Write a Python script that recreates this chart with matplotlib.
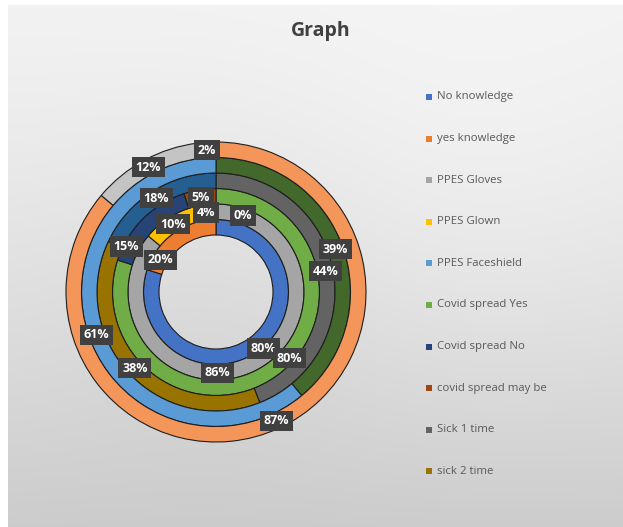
import matplotlib.pyplot as plt
import numpy as np
from matplotlib.patches import Rectangle

# ring data, inner ring first (percent shares)
knowledge_vals = [80, 20]
ppe_vals = [0, 86, 10, 4]
spread_vals = [80, 15, 5]
sick_vals = [44, 38, 18]
ring5_vals = [39, 61]
outer_vals = [87, 12, 2]

knowledge_colors = ['#4472C4', '#ED7D31']
ppe_colors = ['#A5A5A5', '#A5A5A5', '#FFC000', '#5B9BD5']
spread_colors = ['#70AD47', '#264478', '#9E480E']
sick_colors = ['#636363', '#997300', '#255E91']
ring5_colors = ['#43682B', '#5B9BD5']
outer_colors = ['#F4965A', '#C4C4C4', '#D4D4D4']

legend_labels = ['No knowledge', 'yes knowledge', 'PPES Gloves', 'PPES Glown',
                 'PPES Faceshield', 'Covid spread Yes', 'Covid spread No',
                 'covid spread may be', 'Sick 1 time', 'sick 2 time']
legend_colors = ['#4472C4', '#ED7D31', '#A5A5A5', '#FFC000', '#5B9BD5',
                 '#70AD47', '#264478', '#9E480E', '#636363', '#997300']

rings = [(knowledge_vals, knowledge_colors),
         (ppe_vals, ppe_colors),
         (spread_vals, spread_colors),
         (sick_vals, sick_colors),
         (ring5_vals, ring5_colors),
         (outer_vals, outer_colors)]

# some labels were dragged away from the slice middle: (ring, slice) -> (angle, radius)
label_moves = {(0, 0): (140, 0.49), (0, 1): (300, 0.43),
               (1, 0): (19.6, 0.54), (1, 1): (179, 0.54),
               (2, 0): (132, 0.66), (2, 1): (297, 0.67)}

W, H = 623, 527
fig = plt.figure(figsize=(W / 100, H / 100), dpi=100)

# light gray panel with a soft vertical shading
bg = fig.add_axes([0, 0, 1, 1])
yy, xx = np.mgrid[0:H, 0:W]
shade = 0.95 - 0.15 * (yy / H) ** 1.3 - 0.02 * np.exp(-((xx - 216) ** 2 + (yy - 300) ** 2) / 30000.0)
shade += 0.02 * np.exp(-((xx - 470) ** 2 + (yy - 200) ** 2) / 40000.0)
shade = np.clip(shade, 0, 1)
shade[:, :8] = 1.0
shade[:5, :] = 1.0
bg.imshow(np.dstack([shade] * 3), extent=[0, W, H, 0], aspect='auto')
bg.set_xlim(0, W)
bg.set_ylim(H, 0)
bg.axis('off')

cx, cy, R = 216, 292, 150
ax = fig.add_axes([(cx - R) / W, (H - cy - R) / H, 2 * R / W, 2 * R / H])

hole = 0.38
width = (1 - hole) / len(rings)
for i, (vals, cols) in enumerate(rings):
    r_out = hole + width * (i + 1)
    ax.pie(vals, radius=r_out, colors=cols, startangle=90, counterclock=False,
           wedgeprops=dict(width=width, edgecolor='#1e1e1e', linewidth=0.8))
    total = float(sum(vals))
    start = 0.0
    for j, v in enumerate(vals):
        ang = start + 360 * v / total / 2
        rr = r_out - width / 2
        start += 360 * v / total
        if (i, j) in label_moves:
            ang, rr = label_moves[(i, j)]
        t = np.radians(ang)
        ax.text(rr * np.sin(t), rr * np.cos(t), f'{v}%', ha='center', va='center',
                color='white', fontsize=9, fontweight='bold', family='Open Sans',
                bbox=dict(boxstyle='square,pad=0.3', facecolor='#404040', edgecolor='none'))

ax.set_xlim(-1, 1)
ax.set_ylim(-1, 1)
ax.set_aspect('equal')
ax.axis('off')

fig.text(321 / W, 1 - 31 / H, 'Graph', ha='center', va='center', fontsize=14,
         fontweight='bold', color='#404040', family='Open Sans')

# legend on the right, one entry per category
for k, (lab, col) in enumerate(zip(legend_labels, legend_colors)):
    y = 97 + k * 41.6
    fig.patches.append(Rectangle((426 / W, 1 - (y + 3) / H), 6 / W, 6 / H,
                                 facecolor=col, edgecolor='none', transform=fig.transFigure))
    fig.text(437 / W, 1 - y / H, lab, ha='left', va='center', fontsize=8.2,
             color='#595959', family='Open Sans')

fig.savefig('out.png', dpi=100)
